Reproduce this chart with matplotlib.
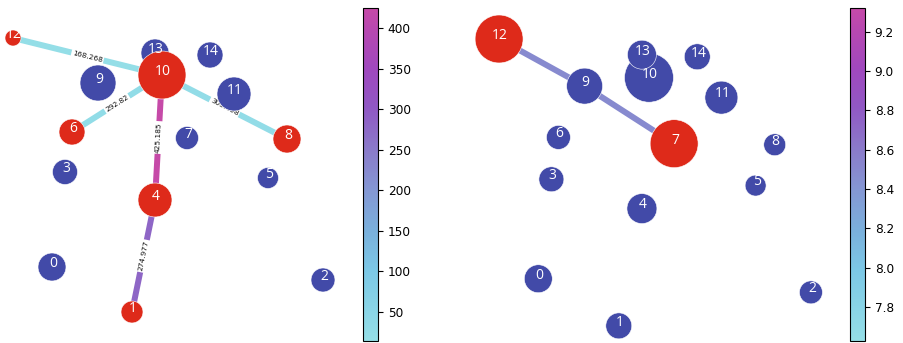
import numpy as np
import matplotlib
matplotlib.use("Agg")
import matplotlib.pyplot as plt
from matplotlib.colors import LinearSegmentedColormap, Normalize
from matplotlib.colorbar import ColorbarBase

# ---------------- data ----------------
nodes = list(range(15))
# shared layout (layout units, y grows downward)
pos_x = [52, 132, 323, 65, 155, 268, 72, 187, 287, 98, 162, 234, 13, 155, 210]
pos_y = [267, 312, 280, 172, 200, 178, 132, 138, 139, 83, 75, 94, 38, 53, 55]

# left graph
left_red = [12, 10, 6, 8, 4, 1]
left_sizes = [406, 250, 298, 324, 598, 228, 350, 274, 406, 671, 1193, 598, 133, 406, 350]
left_edges = [(12, 10), (10, 6), (10, 8), (10, 4), (4, 1)]
left_edge_labels = ["168.268", "292.82", "303.498", "425.185", "274.977"]
left_edge_values = [18, 28, 26, 425.185, 282]
left_vmin, left_vmax = 14, 425.185
left_ticks = [50, 100, 150, 200, 250, 300, 350, 400]

# right graph
right_red = [12, 7]
right_sizes = [406, 350, 274, 324, 466, 228, 298, 1193, 250, 671, 1243, 564, 1193, 435, 350]
right_edges = [(12, 9), (9, 7)]
right_edge_values = [8.49, 8.49]
right_vmin, right_vmax = 7.627, 9.32
right_ticks = [7.8, 8.0, 8.2, 8.4, 8.6, 8.8, 9.0, 9.2]

RED = "#de2a1a"
BLUE = "#424aa8"
cmap = LinearSegmentedColormap.from_list(
    "cb", [(0.0, "#95dfe7"), (0.21, "#7cc8e6"), (0.33, "#7ab0dc"), (0.45, "#8498d4"),
           (0.57, "#8a7cca"), (0.70, "#9058c4"), (0.82, "#a048be"), (0.94, "#b848b0"),
           (1.0, "#c64aa8")])

W, H = 904, 343
fig = plt.figure(figsize=(W / 100, H / 100), dpi=100)


def px_axes(x0, y0, x1, y1):
    return fig.add_axes([x0 / W, 1 - y1 / H, (x1 - x0) / W, (y1 - y0) / H])


def draw_graph(ax, red, sizes, edges, evals, vmin, vmax, elabels=None):
    norm = Normalize(vmin, vmax)
    for (u, v), val in zip(edges, evals):
        ax.plot([pos_x[u], pos_x[v]], [pos_y[u], pos_y[v]], color=cmap(norm(val)),
                lw=4.3, solid_capstyle="butt", zorder=1)
    if elabels is not None:
        fig.canvas.draw()
        for (u, v), lab in zip(edges, elabels):
            mx, my = (pos_x[u] + pos_x[v]) / 2, (pos_y[u] + pos_y[v]) / 2
            p1 = ax.transData.transform((pos_x[u], pos_y[u]))
            p2 = ax.transData.transform((pos_x[v], pos_y[v]))
            ang = np.degrees(np.arctan2(p2[1] - p1[1], p2[0] - p1[0]))
            if ang > 90:
                ang -= 180
            if ang < -90:
                ang += 180
            ax.text(mx, my, lab, fontsize=5.4, rotation=ang, rotation_mode="anchor",
                    ha="center", va="center", color="#111111", zorder=2,
                    bbox=dict(boxstyle="round,pad=0.15", fc="white", ec="none"))
    blue = [n for n in nodes if n not in red]
    redo = [n for n in nodes if n in red]
    for group, col, z in ((blue, BLUE, 3), (redo, RED, 4)):
        ax.scatter([pos_x[n] for n in group], [pos_y[n] for n in group],
                   s=[sizes[n] for n in group], c=col, edgecolors="white",
                   linewidths=0.4, zorder=z)
    for n in nodes:
        ax.text(pos_x[n] + 1, pos_y[n] - 3.5, str(n), color="white", fontsize=10,
                family=["Open Sans", "DejaVu Sans"], ha="center", va="center", zorder=5)


def colorbar(x0, vmin, vmax, ticks):
    cax = px_axes(x0, 8, x0 + 15, 341)
    cb = ColorbarBase(cax, cmap=cmap, norm=Normalize(vmin, vmax), orientation="vertical")
    cb.set_ticks(ticks)
    cb.ax.tick_params(labelsize=8.7, length=3.5, width=0.8)
    cb.outline.set_linewidth(0.8)
    return cb


# left axes: layout units == pixels
axL = px_axes(0, 0, 350, 343)
axL.set_xlim(0, 350)
axL.set_ylim(343, 0)
axL.axis("off")
draw_graph(axL, left_red, left_sizes, left_edges, left_edge_values, left_vmin, left_vmax,
           left_edge_labels)
colorbar(363, left_vmin, left_vmax, left_ticks)

# right axes: slightly different scale
sx, ox = 1.006, 486
sy, oy = 1.047, -0.8
axR = px_axes(470, 0, 840, 343)
axR.set_xlim((470 - ox) / sx, (840 - ox) / sx)
axR.set_ylim((343 - oy) / sy, (0 - oy) / sy)
axR.axis("off")
draw_graph(axR, right_red, right_sizes, right_edges, right_edge_values, right_vmin, right_vmax)
colorbar(850, right_vmin, right_vmax, right_ticks)

fig.savefig("out.png", dpi=100)
